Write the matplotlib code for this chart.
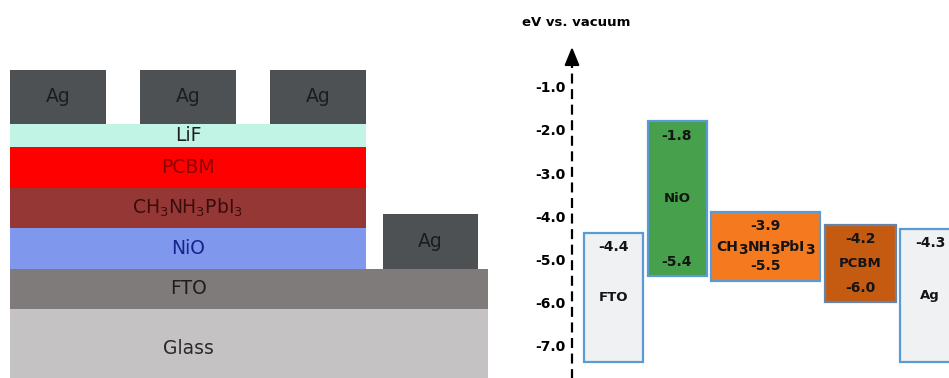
import matplotlib
matplotlib.use("Agg")
import matplotlib.pyplot as plt
from matplotlib.font_manager import FontProperties, findfont, get_font

# ---- device stack (left panel) ----
stack_names = ["Glass", "FTO", "NiO", "CH3NH3PbI3", "PCBM", "LiF"]
stack_labels = ["Glass", "FTO", "NiO", r"CH$_3$NH$_3$PbI$_3$", "PCBM", "LiF"]
contact_label = "Ag"

# ---- energy levels (right panel), eV vs. vacuum ----
materials = ["FTO", "NiO", "CH3NH3PbI3", "PCBM", "Ag"]
# formula pieces: (text, is_subscript)
perovskite_parts = [("CH", False), ("3", True), ("NH", False), ("3", True),
                    ("PbI", False), ("3", True)]
upper_level = [-4.4, -1.8, -3.9, -4.2, -4.3]
lower_level = [None, -5.4, -5.5, -6.0, None]
energy_ticks = [-1.0, -2.0, -3.0, -4.0, -5.0, -6.0, -7.0]

# ---- layout and styling ----
W, H = 949, 378
fig = plt.figure(figsize=(W / 100, H / 100), dpi=100)
fig.patch.set_facecolor("white")

layer_thickness = {"Glass": 80, "FTO": 40, "NiO": 41, "CH3NH3PbI3": 40,
                   "PCBM": 41, "LiF": 23}
layer_colors = {"Glass": "#c4c2c2", "FTO": "#7f7b7b", "NiO": "#7f98ee",
                "CH3NH3PbI3": "#953735", "PCBM": "#ff0000", "LiF": "#c2f4e5"}
layer_text_colors = {"Glass": "#2a2a2a", "FTO": "#1e1e1e", "NiO": "#16248a",
                     "CH3NH3PbI3": "#3a0d0d", "PCBM": "#8e0000", "LiF": "#1e1e1e"}
wide_layers = {"Glass", "FTO"}
stack_left, stack_width, wide_width = 10, 356, 478
pad_width, pad_height, n_pads = 96, 54, 3
side_contact_left, side_contact_width, side_contact_height = 383, 95, 55
ag_color = "#4e5153"

axL = fig.add_axes([0, 0, 500 / W, 1])
axL.set_xlim(0, 500)
axL.set_ylim(11, 389)
axL.axis("off")

bottom = 0
fto_top = 0
for name, label in zip(stack_names, stack_labels):
    h = layer_thickness[name]
    w = wide_width if name in wide_layers else stack_width
    axL.bar(stack_left, h, width=w, bottom=bottom, align="edge",
            color=layer_colors[name], linewidth=0)
    axL.text(stack_left + stack_width / 2, bottom + h / 2, label,
             ha="center", va="center", fontsize=13.5,
             color=layer_text_colors[name])
    bottom += h
    if name == "FTO":
        fto_top = bottom

# Top Ag contacts
pad_gap = (stack_width - n_pads * pad_width) / (n_pads - 1)
for i in range(n_pads):
    x0 = stack_left + i * (pad_width + pad_gap)
    axL.bar(x0, pad_height, width=pad_width, bottom=bottom, align="edge",
            color=ag_color, linewidth=0)
    axL.text(x0 + pad_width / 2, bottom + pad_height / 2, contact_label,
             ha="center", va="center", fontsize=13.5, color="#1c1c1c")

# Side Ag contact on FTO
axL.bar(side_contact_left, side_contact_height, width=side_contact_width,
        bottom=fto_top, align="edge", color=ag_color, linewidth=0)
axL.text(side_contact_left + side_contact_width / 2,
         fto_top + side_contact_height / 2, contact_label,
         ha="center", va="center", fontsize=13.5, color="#1c1c1c")

# ---- energy diagram ----
box_widths = [59, 59, 109, 71, 60]
box_start, box_gap = 12, 4.5
contact_floor = -7.4
fill_colors = ["#eff1f3", "#47a04b", "#f5791f", "#c55a11", "#eff1f3"]
edge_colors = ["#5b9bd5", "#5b9bd5", "#5b9bd5", "#6584a8", "#5b9bd5"]
label_inset = 0.33
txt_color = "#141414"

axR = fig.add_axes([500 / W, 0, 449 / W, 1])
axR.set_xlim(-72, 377)
axR.set_ylim(-7.767, 1.023)
for s in ["top", "right", "bottom"]:
    axR.spines[s].set_visible(False)
axR.spines["left"].set_position(("data", 0))
axR.spines["left"].set_linestyle((0, (3.5, 3.5)))
axR.spines["left"].set_linewidth(1.6)
axR.spines["left"].set_bounds(-7.767, -0.5)
axR.set_xticks([])
axR.set_yticks(energy_ticks)
axR.set_yticklabels([f"{t:.1f}" for t in energy_ticks],
                    fontsize=10, fontweight="bold")
axR.tick_params(axis="y", length=0, pad=4.5)

axR.annotate("", xy=(0, -0.07), xytext=(0, -0.47),
             arrowprops=dict(arrowstyle="-|>,head_length=1.1,head_width=0.45",
                             color="black", lw=1.5, shrinkA=0, shrinkB=0))
axR.text(-50, 0.51, "eV vs. vacuum", ha="left", va="center",
         fontsize=9.5, fontweight="bold")


def advance_width(text, prop):
    """Pen advance of a string in points (sum of glyph advances)."""
    font = get_font(findfont(prop))
    font.set_size(prop.get_size_in_points(), 72)
    return sum(font.load_char(ord(c)).linearHoriAdvance / 65536.0
               for c in text)


def draw_formula(ax, xy, parts, size, color, drop=2.0):
    """Bold formula, centred on xy, with full-size lowered index digits."""
    prop = FontProperties(family="DejaVu Sans", weight="bold", size=size)
    widths = [advance_width(t, prop) for t, _ in parts]
    x_off = -sum(widths) / 2
    base = -0.36 * size
    for (t, sub), w in zip(parts, widths):
        ax.annotate(t, xy=xy, xytext=(x_off, base - (drop if sub else 0)),
                    textcoords="offset points", ha="left", va="baseline",
                    fontproperties=prop, color=color)
        x_off += w


x = box_start
for i, m in enumerate(materials):
    top = upper_level[i]
    low = lower_level[i] if lower_level[i] is not None else contact_floor
    w = box_widths[i]
    axR.bar(x, top - low, width=w, bottom=low, align="edge",
            color=fill_colors[i], edgecolor=edge_colors[i], linewidth=1.6)
    cx = x + w / 2
    axR.text(cx, top - label_inset, f"{top:.1f}", ha="center", va="center",
             fontsize=10, fontweight="bold", color=txt_color)
    if lower_level[i] is not None:
        axR.text(cx, low + label_inset, f"{low:.1f}", ha="center",
                 va="center", fontsize=10, fontweight="bold", color=txt_color)
    name_y = (top + low) / 2
    if m == "CH3NH3PbI3":
        draw_formula(axR, (cx, name_y), perovskite_parts, 10, txt_color,
                     drop=2.2)
    else:
        axR.text(cx, name_y, m, ha="center", va="center",
                 fontsize=9.5, fontweight="bold", color=txt_color)
    x += w + box_gap

fig.savefig("out.png", dpi=100)
